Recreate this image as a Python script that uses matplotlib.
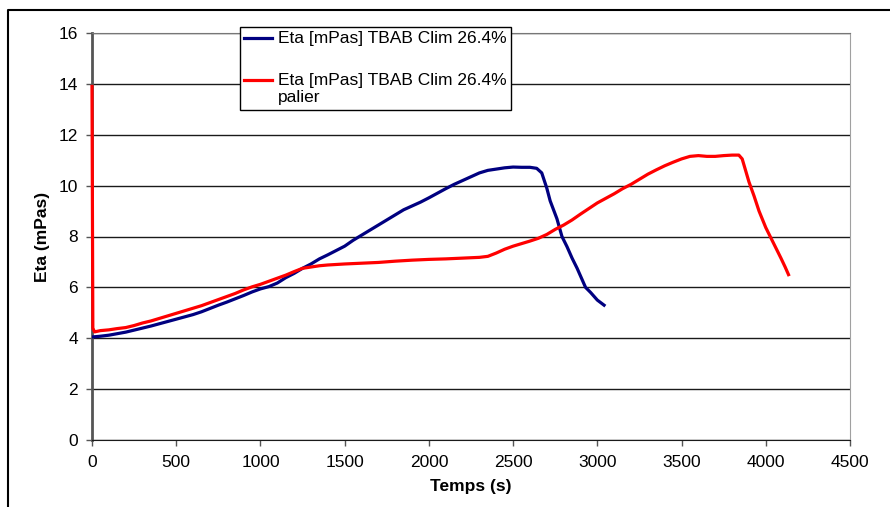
import matplotlib
matplotlib.use("Agg")
import matplotlib.pyplot as plt
from matplotlib.lines import Line2D

plt.rcParams['font.family'] = ['Liberation Sans', 'DejaVu Sans']

# ---- data ----
blue_t = [0, 50, 100, 150, 200, 250, 300, 350, 400, 450, 500, 550, 600, 650, 700, 750,
          800, 850, 900, 950, 1000, 1050, 1100, 1150, 1200, 1250, 1300, 1350, 1400, 1450,
          1500, 1550, 1600, 1650, 1700, 1750, 1800, 1850, 1900, 1950, 2000, 2050, 2100,
          2150, 2200, 2250, 2300, 2350, 2400, 2450, 2500, 2550, 2600, 2640, 2670, 2700,
          2720, 2760, 2790, 2820, 2850, 2880, 2930, 2960, 3000, 3040]
blue_eta = [4.05, 4.08, 4.12, 4.18, 4.24, 4.32, 4.40, 4.48, 4.57, 4.66, 4.75, 4.84, 4.93,
            5.04, 5.17, 5.30, 5.42, 5.55, 5.68, 5.82, 5.94, 6.03, 6.17, 6.38, 6.55, 6.75,
            6.92, 7.12, 7.28, 7.45, 7.62, 7.85, 8.05, 8.25, 8.45, 8.65, 8.85, 9.05, 9.20,
            9.35, 9.52, 9.70, 9.88, 10.05, 10.20, 10.35, 10.50, 10.60, 10.65, 10.70, 10.73,
            10.72, 10.72, 10.68, 10.50, 9.90, 9.40, 8.70, 8.00, 7.60, 7.15, 6.75, 6.00,
            5.80, 5.50, 5.30]

red_t = [0, 5, 15, 50, 100, 150, 200, 250, 300, 350, 400, 450, 500, 550, 600, 650, 700,
         750, 800, 850, 900, 950, 1000, 1050, 1100, 1150, 1200, 1250, 1300, 1350, 1400,
         1500, 1600, 1700, 1800, 1900, 2000, 2100, 2200, 2300, 2350, 2400, 2450, 2500,
         2550, 2600, 2650, 2700, 2750, 2800, 2850, 2900, 2950, 3000, 3050, 3100, 3150,
         3200, 3250, 3300, 3350, 3400, 3450, 3500, 3550, 3600, 3650, 3700, 3750, 3800,
         3840, 3860, 3880, 3900, 3930, 3960, 4000, 4030, 4060, 4090, 4115, 4135]
red_eta = [13.9, 4.4, 4.25, 4.30, 4.33, 4.38, 4.42, 4.50, 4.60, 4.68, 4.78, 4.88, 4.98,
           5.08, 5.18, 5.28, 5.40, 5.52, 5.64, 5.76, 5.90, 6.02, 6.12, 6.24, 6.36, 6.48,
           6.62, 6.75, 6.80, 6.85, 6.88, 6.92, 6.95, 6.98, 7.03, 7.07, 7.10, 7.12, 7.15,
           7.18, 7.22, 7.35, 7.50, 7.62, 7.72, 7.82, 7.93, 8.08, 8.28, 8.45, 8.65, 8.88,
           9.10, 9.32, 9.50, 9.68, 9.88, 10.05, 10.25, 10.45, 10.62, 10.78, 10.92, 11.05,
           11.15, 11.18, 11.15, 11.15, 11.18, 11.20, 11.20, 11.05, 10.60, 10.15, 9.60,
           9.00, 8.35, 7.95, 7.55, 7.15, 6.80, 6.50]

series_labels = ["Eta [mPas] TBAB Clim 26.4%", "Eta [mPas] TBAB Clim 26.4%\npalier"]
x_ticks = [0, 500, 1000, 1500, 2000, 2500, 3000, 3500, 4000, 4500]
y_ticks = [0, 2, 4, 6, 8, 10, 12, 14, 16]
x_title = "Temps (s)"
y_title = "Eta (mPas)"

# ---- figure ----
W, H = 890, 507
fig = plt.figure(figsize=(W / 100, H / 100), dpi=100)
ax = fig.add_axes([92 / W, 1 - 440 / H, (850 - 92) / W, (440 - 33) / H])

ax.plot(blue_t, blue_eta, color='#000080', lw=2.3, label=series_labels[0], zorder=3)
ax.plot(red_t, red_eta, color='#ff0000', lw=2.3, label=series_labels[1], zorder=3,
        clip_on=False)

ax.set_xlim(0, 4500)
ax.set_ylim(0, 16)
ax.set_xticks(x_ticks)
ax.set_yticks(y_ticks)
ax.yaxis.grid(True, color='#1a1a1a', lw=1.0)
ax.set_axisbelow(True)

fs = 12.5
ax.tick_params(axis='both', direction='out', length=4.5, width=1, color='#555555',
               labelsize=fs)
ax.tick_params(axis='y', pad=5.5)
ax.tick_params(axis='x', pad=6.5)
ax.set_xlabel(x_title, fontsize=fs, fontweight='bold', labelpad=6)
ax.set_ylabel(y_title, fontsize=fs, fontweight='bold', labelpad=6)

ax.spines['left'].set_color('#555555')
ax.spines['left'].set_linewidth(2.0)
ax.spines['bottom'].set_color('#1a1a1a')
ax.spines['top'].set_color('#777777')
ax.spines['right'].set_color('#a0a0a0')

leg = ax.legend(loc='upper left', bbox_to_anchor=(240 / W, 1 - 27 / H),
                bbox_transform=fig.transFigure, borderaxespad=0, fontsize=fs,
                frameon=True, fancybox=False, edgecolor='black', framealpha=1,
                handlelength=1.6, handletextpad=0.35, handleheight=1.0,
                labelspacing=1.5, borderpad=0.25)
leg.get_frame().set_linewidth(1.0)
for t in leg.get_texts():
    t.set_linespacing(1.2)
for col in leg._legend_handle_box.get_children():
    for item in col.get_children():
        item.align = "top"

# outer chart-area frame (left and top edges visible)
fig.add_artist(Line2D([8 / W, 8 / W, 1.0], [0.0, 1 - 10 / H, 1 - 10 / H],
                      transform=fig.transFigure, color='black', lw=1.5))

fig.savefig('out.png', dpi=100)
